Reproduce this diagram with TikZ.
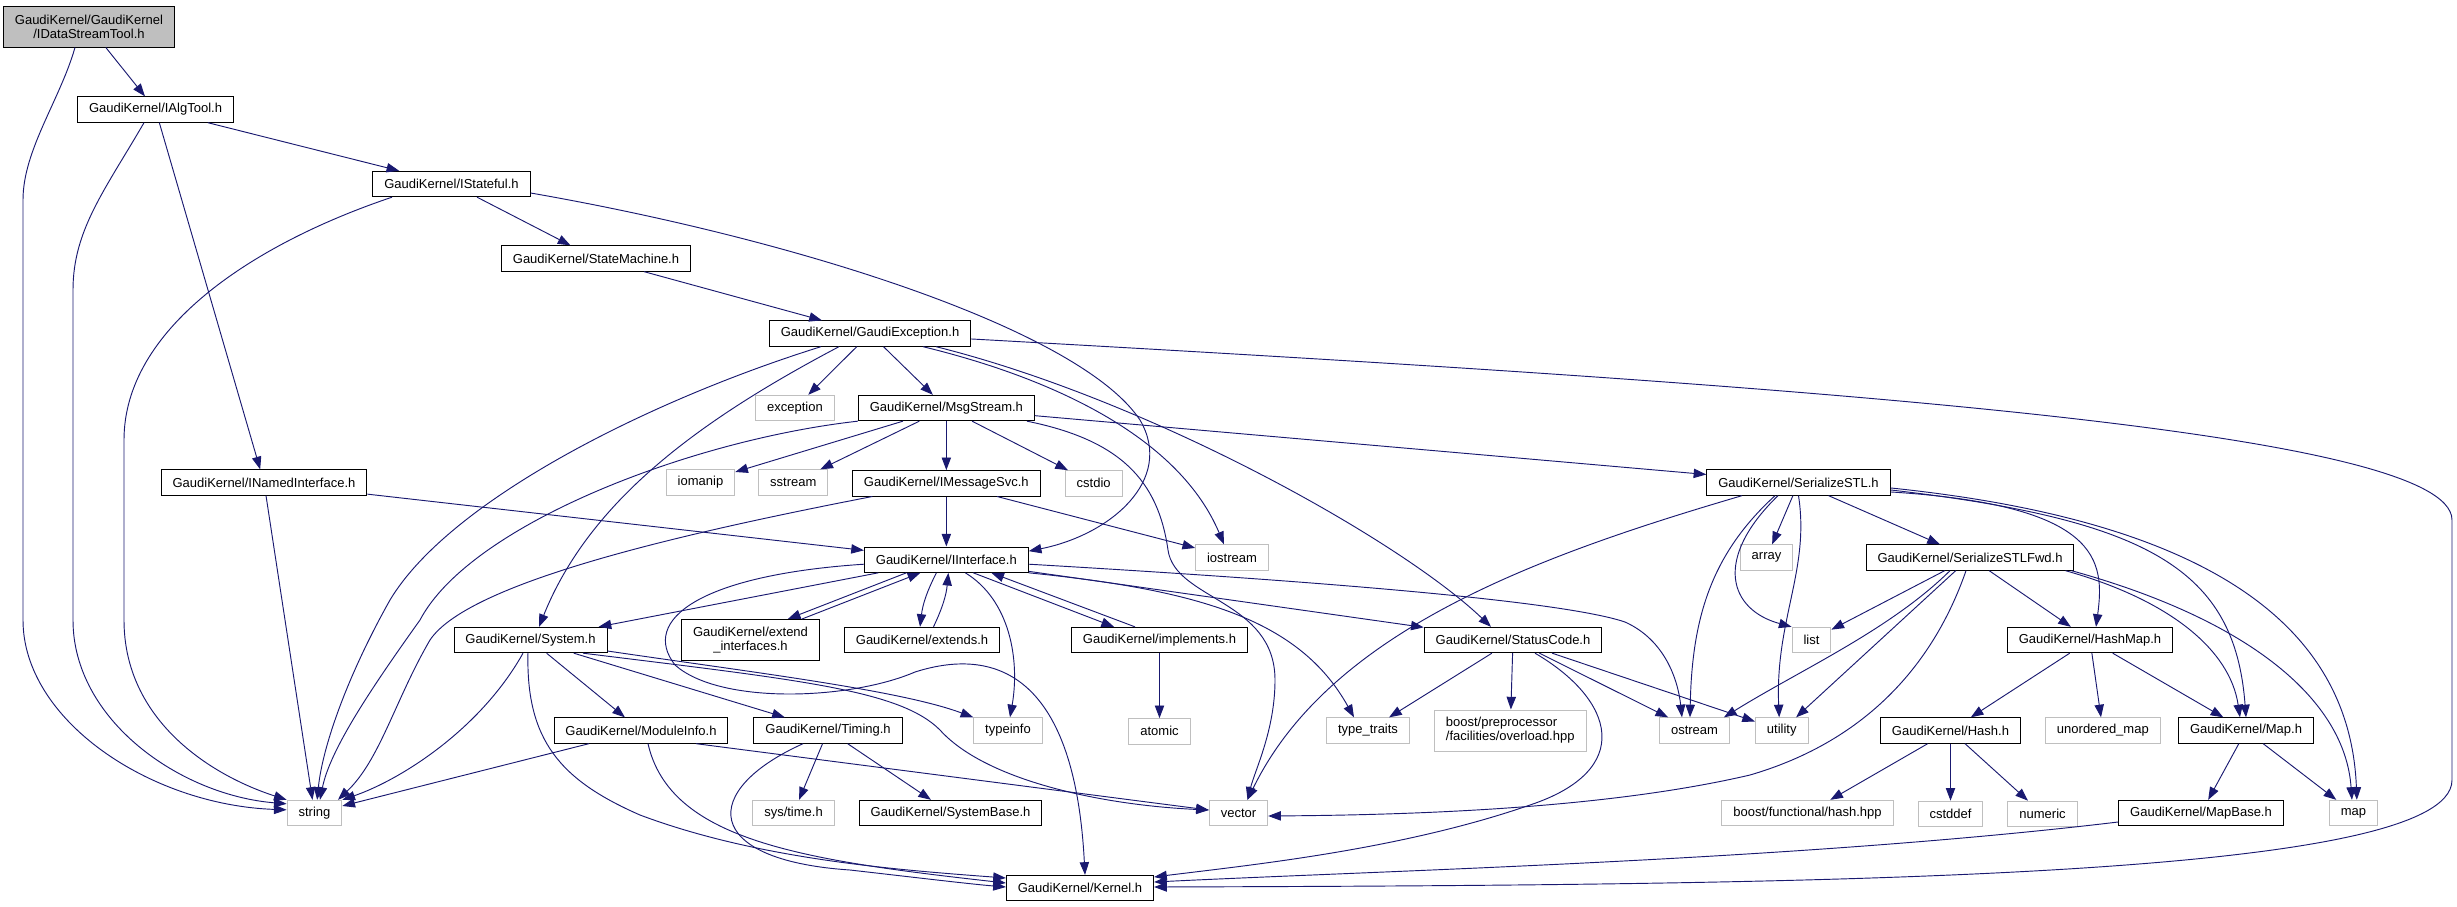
\documentclass[tikz,border=0pt]{standalone}
\usepackage{fontspec}
\setmainfont{Liberation Sans}
\usepackage{xcolor}
\usetikzlibrary{arrows.meta,positioning}
\definecolor{colorEdge}{HTML}{191970}
\definecolor{colorExt}{HTML}{BFBFBF}
\definecolor{colorRoot}{HTML}{BFBFBF}

\begin{document}
\begin{tikzpicture}[x=0.75pt,y=-0.75pt,node distance=17.25pt,>={Triangle[length=9.5pt,width=7pt]},every node/.append style={align=center},hdr/.style={draw, fill=white, line width=0.75pt, inner xsep=8.6pt, inner ysep=4pt, minimum height=19pt, font=\fontsize{9.75}{10.5}\selectfont},ext/.style={hdr, draw=colorExt},two/.style={minimum height=30.75pt},dep/.style={->, color=colorEdge, line width=0.7pt}]
    \useasboundingbox (0,0) rectangle (2457,907);
    \node [hdr, two, fill=colorRoot] (DS) at (89,26.5) {GaudiKernel/GaudiKernel\\/IDataStreamTool.h};
    \node [hdr] (AT)   at (155.5,109.5) {GaudiKernel/IAlgTool.h};
    \node [hdr] (St)   at (451.5,184)   {GaudiKernel/IStateful.h};
    \node [hdr] (SM)   at (596,258.5)   {GaudiKernel/StateMachine.h};
    \node [hdr] (GE)   at (870,333.5)   {GaudiKernel/GaudiException.h};
    \node [ext] (exc)  at (795,408)     {exception};
    \node [hdr, right=of exc] (MS)      {GaudiKernel/MsgStream.h};
    \node [hdr] (NI)   at (264,482.5)   {GaudiKernel/INamedInterface.h};
    \node [ext] (iom)  at (700.5,482.5) {iomanip};
    \node [ext, right=of iom] (sst)     {sstream};
    \node [hdr, below=36.75pt of MS] (MSvc) {GaudiKernel/IMessageSvc.h};
    \node [ext, right=18pt of MSvc] (cio) {cstdio};
    \node [hdr] (STL)  at (1798.5,482.5) {GaudiKernel/SerializeSTL.h};
    \node [hdr, below=37.5pt of MSvc] (II) {GaudiKernel/IInterface.h};
    \node [ext] (ios)  at (1232,557.5)  {iostream};
    \node [ext] (arr)  at (1766.5,557.5) {array};
    \node [hdr] (Fwd)  at (1970,557.5)  {GaudiKernel/SerializeSTLFwd.h};
    \node [hdr] (Sys)  at (530.5,640)   {GaudiKernel/System.h};
    \node [hdr, two] (EI) at (750.5,640) {GaudiKernel/extend\\\_interfaces.h};
    \node [hdr, right=18pt of EI] (Ext) {GaudiKernel/extends.h};
    \node [hdr] (Impl) at (1159.5,640)  {GaudiKernel/implements.h};
    \node [hdr] (SC)   at (1513,640)    {GaudiKernel/StatusCode.h};
    \node [ext] (lst)  at (1811.5,640)  {list};
    \node [hdr] (HM)   at (2090,640)    {GaudiKernel/HashMap.h};
    \node [hdr] (MI)   at (641,730.5)   {GaudiKernel/ModuleInfo.h};
    \node [hdr, right=18.75pt of MI] (Tim) {GaudiKernel/Timing.h};
    \node [ext] (tinf) at (1008,730.5)  {typeinfo};
    \node [ext, below=48.75pt of Impl] (atm) {atomic};
    \node [ext] (ttr)  at (1368,730.5)  {type\_traits};
    \node [ext, two, align=left, right=18pt of ttr] (bpp) {boost/preprocessor\\/facilities/overload.hpp};
    \node [ext] (ost)  at (1694.5,730.5) {ostream};
    \node [ext, right=18.75pt of ost] (utl) {utility};
    \node [hdr] (Hs)   at (1950.5,730.5) {GaudiKernel/Hash.h};
    \node [ext, right=18pt of Hs] (umap) {unordered\_map};
    \node [hdr] (Mp)   at (2246,730.5)  {GaudiKernel/Map.h};
    \node [ext] (str)  at (314.5,813)   {string};
    \node [ext] (stime) at (793.5,813)  {sys/time.h};
    \node [hdr, right=18pt of stime] (SB) {GaudiKernel/SystemBase.h};
    \node [ext] (vec)  at (1238.5,813)  {vector};
    \node [ext] (bfh)  at (1807.5,813)  {boost/functional/hash.hpp};
    \node [ext, below=42.75pt of Hs] (cdef) {cstddef};
    \node [ext, right=18pt of cdef] (num) {numeric};
    \node [hdr] (MB)   at (2201,813)    {GaudiKernel/MapBase.h};
    \node [ext, right=33.75pt of MB] (map) {map};
    \node [hdr] (Ke)   at (1080,888)    {GaudiKernel/Kernel.h};
    \path[dep] (DS) edge (AT);
    \draw[dep] ([xshift=-10.5pt]DS.south) .. controls (60,100) and (23,150) .. (23,200) -- (23,620) .. controls (23,720) and (150,805) .. ([yshift=-7.5pt]str.north west);
    \path[dep] (AT) edge (St) edge (NI);
    \draw[dep] ([xshift=-8.6pt]AT.south) .. controls (105,190) and (73,230) .. (73,290) -- (73,620) .. controls (73,720) and (180,795) .. ([yshift=-3pt]str.north west);
    \path[dep] (St) edge (SM);
    \draw[dep] ([xshift=-44.6pt]St.south) .. controls (250,245) and (124,330) .. (124,440) -- (124,620) .. controls (124,720) and (210,775) .. (str.north west);
    \draw[dep] ([yshift=-6.75pt]St.east) .. controls (800,240) and (1080,330) .. (1140,420) .. controls (1175,480) and (1110,535) .. ([yshift=6.4pt]II.east);
    \path[dep] (SM) edge (GE);
    \path[dep] (GE) edge (exc) edge (MS);
    \draw[dep] ([xshift=-36.75pt]GE.south) .. controls (650,400) and (450,500) .. (390,600) .. controls (345,680) and (322,750) .. ([xshift=2pt]str.north);
    \draw[dep] ([xshift=-23.25pt]GE.south) .. controls (700,420) and (590,500) .. ([xshift=6.4pt]Sys.north);
    \draw[dep] ([xshift=39.75pt]GE.south) .. controls (1060,380) and (1180,440) .. ([xshift=-6pt]ios.north);
    \draw[dep] ([xshift=49.5pt]GE.south) .. controls (1150,400) and (1400,540) .. ([xshift=-16.5pt]SC.north);
    \draw[dep] ([yshift=-4.1pt]GE.east) .. controls (1800,385) and (2452,430) .. (2452,520) -- (2452,780) .. controls (2452,880) and (1800,885) .. ([yshift=0.75pt]Ke.east);
    \path[dep] (MS) edge (iom) edge (sst) edge (MSvc) edge (cio) edge (STL);
    \draw[dep] (MS.south west) .. controls (690,440) and (470,525) .. (420,620) .. controls (370,690) and (330,750) .. ([xshift=4.1pt]str.north);
    \draw[dep] ([xshift=-6pt]MS.south east) .. controls (1120,440) and (1158,480) .. (1168,550) .. controls (1175,600) and (1275,600) .. (1275,680) .. controls (1275,730) and (1255,770) .. ([xshift=6.75pt]vec.north);
    \path[dep] (MSvc) edge (II) edge (ios);
    \draw[dep] ([xshift=-55.5pt]MSvc.south) .. controls (700,530) and (470,580) .. (430,640) .. controls (395,700) and (380,760) .. ([xshift=17.6pt]str.north);
    \path[dep] (NI) edge (II) edge (str);
    \path[dep] (II) edge (Sys) edge (SC);
    \draw[dep] ([xshift=-30pt]II.south) -- ([xshift=28pt]EI.north);
    \draw[dep] ([xshift=38.6pt]EI.north) -- ([xshift=-19.5pt]II.south);
    \path[dep] ([xshift=-7.5pt]II.south) edge[bend right=10] ([xshift=-1.5pt]Ext.north);
    \path[dep] ([xshift=8.6pt]Ext.north) edge[bend right=10] ([xshift=1.5pt]II.south);
    \draw[dep] ([xshift=20.25pt]II.south) -- ([xshift=-34.1pt]Impl.north);
    \draw[dep] ([xshift=-18.4pt]Impl.north) -- ([xshift=33.75pt]II.south);
    \draw[dep] ([xshift=14.25pt]II.south) .. controls (1010,600) and (1020,660) .. ([xshift=1.5pt]tinf.north);
    \draw[dep] ([yshift=-3.4pt]II.west) .. controls (700,575) and (640,620) .. (675,665) .. controls (720,705) and (850,700) .. (915,672) .. controls (1000,645) and (1075,680) .. ([xshift=3.75pt]Ke.north);
    \draw[dep] ([yshift=-3.4pt]II.east) .. controls (1300,580) and (1560,600) .. (1625,622) .. controls (1665,640) and (1678,680) .. ([xshift=-9.4pt]ost.north);
    \draw[dep] (II.south east) .. controls (1200,590) and (1300,620) .. ([xshift=-10.5pt]ttr.north);
    \path[dep] (Sys) edge (MI) edge (Tim);
    \draw[dep] ([xshift=-5.6pt]Sys.south) .. controls (480,730) and (400,780) .. (str.north east);
    \draw[dep] ([xshift=-1.9pt]Sys.south) .. controls (526,740) and (560,780) .. (640,815) .. controls (760,860) and (900,870) .. ([yshift=7.5pt]Ke.west);
    \draw[dep] ([yshift=-8.25pt]Sys.east) .. controls (750,672) and (900,690) .. (tinf.north west);
    \draw[dep] ([xshift=39.4pt]Sys.south) .. controls (800,680) and (900,690) .. (940,730) .. controls (985,780) and (1100,805) .. ([yshift=2.25pt]vec.west);
    \path[dep] (MI) edge (str);
    \draw[dep] ([xshift=5.25pt]MI.south) .. controls (670,840) and (800,860) .. ([yshift=3.75pt]Ke.west);
    \path[dep] ([xshift=41.25pt]MI.south) edge ([yshift=2.25pt]vec.west);
    \path[dep] (Tim) edge (stime) edge (SB);
    \draw[dep] ([xshift=-18.75pt]Tim.south) .. controls (700,790) and (700,860) .. (850,870) .. controls (920,878) and (970,884) .. ([yshift=0.75pt]Ke.west);
    \path[dep] (Impl) edge (atm);
    \path[dep] (SC) edge (ttr) edge (bpp) edge (ost) edge (utl);
    \draw[dep] ([xshift=16.5pt]SC.south) .. controls (1615,700) and (1635,770) .. (1530,805) .. controls (1400,850) and (1250,865) .. ([yshift=8.25pt]Ke.east);
    \path[dep] (STL) edge (arr) edge (Fwd);
    \draw[dep] ([xshift=-42.4pt]STL.south) .. controls (1540,555) and (1330,630) .. ([xshift=6.75pt]vec.north);
    \draw[dep] ([xshift=-17.6pt]STL.south) .. controls (1710,555) and (1692,620) .. ([xshift=-3.4pt]ost.north);
    \draw[dep] ([xshift=-15.4pt]STL.south) .. controls (1712,560) and (1730,610) .. (lst.north west);
    \draw[dep] (STL.south) .. controls (1810,570) and (1775,620) .. ([xshift=-1.9pt]utl.north);
    \draw[dep] ([yshift=-7.1pt]STL.east) .. controls (2100,505) and (2105,560) .. ([xshift=4.5pt]HM.north);
    \draw[dep] ([yshift=-5.6pt]STL.east) .. controls (2150,520) and (2235,570) .. (Mp.north);
    \draw[dep] ([yshift=-4.1pt]STL.east) .. controls (2200,520) and (2350,620) .. ([xshift=2.6pt]map.north);
    \path[dep] (Fwd) edge (lst) edge (utl) edge (HM);
    \draw[dep] ([xshift=-15pt]Fwd.south) .. controls (1890,630) and (1800,670) .. ([xshift=-4.5pt]ost.north east);
    \draw[dep] ([xshift=-3pt]Fwd.south) .. controls (1935,660) and (1870,740) .. (1750,775) .. controls (1600,810) and (1400,815) .. ([yshift=-2.25pt]vec.east);
    \draw[dep] ([xshift=-6.75pt]Fwd.south east) .. controls (2170,600) and (2230,650) .. ([xshift=-4.5pt]Mp.north);
    \draw[dep] ([xshift=-2.25pt]Fwd.south east) .. controls (2250,620) and (2345,700) .. ([xshift=-1.1pt]map.north);
    \path[dep] (HM) edge (Hs) edge (umap) edge (Mp);
    \path[dep] (Hs) edge (bfh) edge (cdef) edge (num);
    \path[dep] (Mp) edge (MB) edge (map);
    \draw[dep] ([yshift=-6.75pt]MB.west) .. controls (1800,860) and (1400,870) .. ([yshift=4.5pt]Ke.east);
\end{tikzpicture}
\end{document}
